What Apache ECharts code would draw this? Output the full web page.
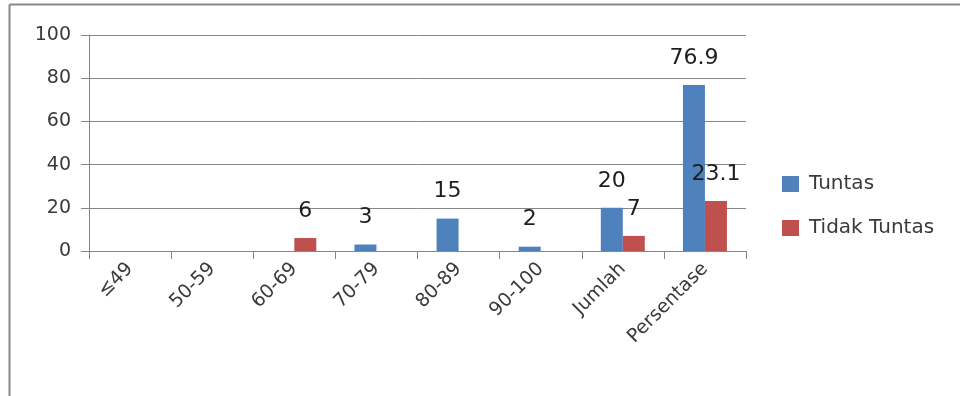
<!DOCTYPE html>
<html>
<head>
<meta charset="utf-8">
<script src="https://cdn.jsdelivr.net/npm/echarts@6/dist/echarts.min.js"></script>
<style>
  html, body { margin: 0; padding: 0; background: #fff; }
  #chart { width: 960px; height: 396px; }
</style>
</head>
<body>
<div id="chart"></div>
<script>
// Score ranges plus the summary columns
const categories = ['≤49', '50-59', '60-69', '70-79', '80-89', '90-100', 'Jumlah', 'Persentase'];
const tuntas = [0, 0, 0, 3, 15, 2, 20, 76.9];
const tidakTuntas = [0, 0, 6, 0, 0, 0, 7, 23.1];
const yTicks = { min: 0, max: 100, interval: 20 };

const font = 'DejaVu Sans, sans-serif';
const textColor = '#3a3a3a';

const chart = echarts.init(document.getElementById('chart'));

const valueLabel = {
  show: true,
  position: 'top',
  distance: 16,
  fontSize: 22,
  fontFamily: font,
  color: '#1e1e1e',
  formatter: p => (p.value === 0 ? '' : String(p.value))
};

chart.setOption({
  animation: false,
  backgroundColor: '#fff',
  graphic: [
    { type: 'line', shape: { x1: 9.5, y1: 4.5, x2: 960, y2: 4.5 }, style: { stroke: '#888', lineWidth: 2 } },
    { type: 'line', shape: { x1: 9.5, y1: 4.5, x2: 9.5, y2: 396 }, style: { stroke: '#888', lineWidth: 2 } }
  ],
  grid: { left: 89, top: 35, width: 657, height: 216 },
  legend: {
    orient: 'vertical',
    left: 777,
    top: 169,
    itemWidth: 17,
    itemHeight: 16,
    itemGap: 24,
    icon: 'rect',
    textStyle: { fontSize: 20, fontFamily: font, color: textColor, padding: [0, 0, 0, 5] }
  },
  xAxis: {
    type: 'category',
    data: categories,
    axisLine: { lineStyle: { color: '#868686', width: 1 } },
    axisTick: { show: true, length: 8, alignWithLabel: false, lineStyle: { color: '#868686' } },
    axisLabel: {
      rotate: 45,
      interval: 0,
      margin: 15,
      fontSize: 19,
      fontFamily: font,
      color: textColor
    }
  },
  yAxis: {
    type: 'value',
    min: yTicks.min,
    max: yTicks.max,
    interval: yTicks.interval,
    axisLine: { show: true, lineStyle: { color: '#868686' } },
    axisTick: { show: true, length: 8, lineStyle: { color: '#868686' } },
    axisLabel: { fontSize: 19, fontFamily: font, color: textColor, margin: 18 },
    splitLine: { lineStyle: { color: '#868686', width: 1 } }
  },
  series: [
    {
      name: 'Tuntas',
      type: 'bar',
      data: tuntas,
      barWidth: 22,
      barGap: '0%',
      itemStyle: { color: '#4F81BD' },
      label: valueLabel
    },
    {
      name: 'Tidak Tuntas',
      type: 'bar',
      data: tidakTuntas,
      barWidth: 22,
      itemStyle: { color: '#C0504D' },
      label: valueLabel
    }
  ]
});
</script>
</body>
</html>
